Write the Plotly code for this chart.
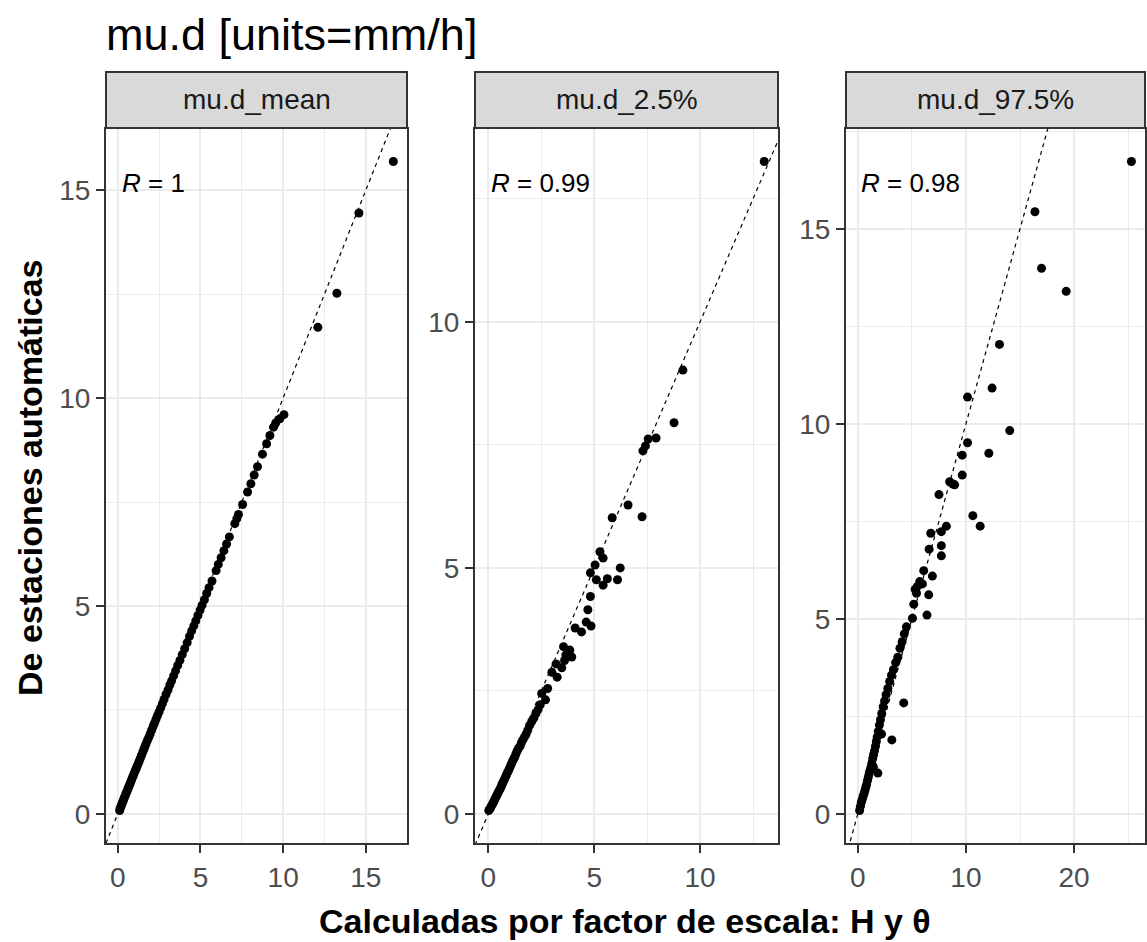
import plotly.graph_objects as go

# ---- data: automatic-station values vs. values scaled by H and theta ----
panel_names = ["mu.d_mean", "mu.d_2.5%", "mu.d_97.5%"]
r_labels = ["1", "0.99", "0.98"]

mean_x = [0.12, 0.15, 0.2, 0.24, 0.28, 0.33, 0.37, 0.41, 0.46, 0.5, 0.55, 0.6, 0.64, 0.69,
          0.74, 0.79, 0.84, 0.9, 0.95, 1.0, 1.06, 1.12, 1.18, 1.24, 1.3, 1.37, 1.44, 1.52,
          1.58, 1.65, 1.72, 1.8, 1.88, 1.96, 2.05, 2.14, 2.22, 2.31, 2.4, 2.5, 2.6, 2.7,
          2.8, 2.92, 3.04, 3.15, 3.26, 3.38, 3.5, 3.63, 3.76, 3.9, 4.05, 4.2, 4.34, 4.47,
          4.6, 4.72, 4.85, 4.98, 5.1, 5.24, 5.38, 5.52, 5.7, 5.95, 6.08, 6.25, 6.42, 6.58,
          6.75, 7.08, 7.2, 7.3, 7.55, 7.85, 8.05, 8.25, 8.45, 8.75, 9.0, 9.2, 9.42, 9.55,
          9.8, 10.05, 12.1, 13.25, 14.58, 16.66]
mean_y = [0.08, 0.13, 0.18, 0.22, 0.27, 0.31, 0.36, 0.4, 0.44, 0.49, 0.53, 0.58, 0.63, 0.67,
          0.72, 0.77, 0.82, 0.88, 0.93, 0.98, 1.04, 1.09, 1.15, 1.21, 1.27, 1.34, 1.41, 1.49,
          1.55, 1.62, 1.69, 1.77, 1.84, 1.92, 2.01, 2.1, 2.18, 2.27, 2.36, 2.45, 2.55, 2.65,
          2.75, 2.87, 2.98, 3.1, 3.2, 3.32, 3.44, 3.57, 3.69, 3.83, 3.97, 4.12, 4.27, 4.4,
          4.52, 4.64, 4.77, 4.9, 5.02, 5.15, 5.3, 5.44, 5.6, 5.85, 6.0, 6.16, 6.33, 6.49,
          6.66, 6.98, 7.1, 7.2, 7.44, 7.74, 7.94, 8.15, 8.35, 8.65, 8.9, 9.1, 9.3, 9.4,
          9.5, 9.6, 11.7, 12.52, 14.45, 15.69]

low_x = [0.02, 0.06, 0.1, 0.14, 0.18, 0.22, 0.26, 0.3, 0.34, 0.38, 0.42, 0.46, 0.5, 0.55,
         0.6, 0.64, 0.68, 0.72, 0.77, 0.82, 0.86, 0.9, 0.95, 1.0, 1.05, 1.1, 1.15, 1.2,
         1.25, 1.3, 1.36, 1.42, 1.5, 1.56, 1.62, 1.7, 1.78, 1.86, 1.95, 2.05, 2.15, 2.25,
         2.35, 2.45, 2.52, 2.7, 2.8, 3.0, 3.25, 3.47, 3.2, 3.6, 3.66, 3.85, 3.94, 3.55,
         4.1, 4.4, 4.62, 4.85, 4.7, 4.82, 5.1, 5.42, 5.62, 4.82, 5.04, 5.27, 5.42, 6.1,
         6.23, 5.85, 6.6, 7.26, 7.3, 7.42, 7.55, 7.92, 8.77, 9.19, 13.03]
low_y = [0.07, 0.1, 0.12, 0.16, 0.19, 0.22, 0.26, 0.29, 0.33, 0.36, 0.4, 0.43, 0.47, 0.5,
         0.55, 0.6, 0.63, 0.67, 0.71, 0.76, 0.8, 0.84, 0.88, 0.93, 0.98, 1.03, 1.08, 1.12,
         1.16, 1.22, 1.28, 1.33, 1.38, 1.45, 1.5, 1.56, 1.62, 1.7, 1.8, 1.88, 1.95, 2.04,
         2.12, 2.22, 2.45, 2.32, 2.55, 2.88, 2.78, 2.97, 3.05, 3.12, 3.23, 3.33, 3.19, 3.4,
         3.78, 3.7, 3.9, 3.82, 4.15, 4.42, 4.76, 4.65, 4.78, 4.9, 5.06, 5.33, 5.2, 4.76,
         5.0, 6.02, 6.28, 6.04, 7.38, 7.48, 7.62, 7.64, 7.95, 9.02, 13.26]

high_x = [0.17, 0.25, 0.33, 0.42, 0.5, 0.58, 0.66, 0.74, 0.82, 0.9, 0.98, 1.06, 1.14, 1.22,
          1.3, 1.38, 1.46, 1.55, 1.64, 1.72, 1.8, 1.9, 2.0, 2.1, 2.22, 2.35, 2.48, 2.62,
          2.78, 2.95, 3.12, 3.3, 3.5, 3.7, 3.9, 4.1, 4.3, 4.5, 1.86, 3.15, 4.25, 1.45, 2.2,
          5.06, 6.4, 5.18, 5.43, 6.56, 5.3, 5.49, 5.98, 5.73, 6.9, 6.1, 7.73, 6.6, 7.73,
          6.75, 7.73, 8.19, 7.51, 8.5, 8.8, 8.96, 9.66, 9.66, 12.12, 10.15, 14.05, 10.15,
          12.42, 13.1, 19.27, 16.99, 16.38, 10.64, 11.32, 25.3]
high_y = [0.09, 0.2, 0.3, 0.38, 0.46, 0.52, 0.6, 0.68, 0.76, 0.86, 0.95, 1.04, 1.12, 1.2,
          1.3, 1.42, 1.52, 1.62, 1.74, 1.86, 1.98, 2.12, 2.28, 2.42, 2.58, 2.75, 2.9, 3.06,
          3.22, 3.4, 3.56, 3.7, 3.88, 4.02, 4.25, 4.42, 4.62, 4.8, 1.05, 1.9, 2.85, 1.2, 2.05,
          5.02, 5.1, 5.38, 5.66, 5.62, 5.76, 5.83, 5.9, 5.96, 6.1, 6.24, 6.62, 6.79, 6.88,
          7.2, 7.24, 7.38, 8.19, 8.52, 8.46, 8.44, 8.69, 9.2, 9.25, 9.52, 9.83, 10.69,
          10.92, 12.04, 13.4, 13.99, 15.44, 7.65, 7.38, 16.73]

x_series = [mean_x, low_x, high_x]
y_series = [mean_y, low_y, high_y]
x_dticks = [5, 5, 10]
y_dticks = [5, 5, 5]

# ---- styling ----
FONT = "Arial, Liberation Sans, sans-serif"
W, H = 1147, 942
panel_px = [(106, 407), (475, 778), (846, 1145)]
top_px, bottom_px = 129, 843
strip_top_px, strip_bottom_px = 72, 128


def expand(vals, mult=0.05):
    lo, hi = min(vals), max(vals)
    pad = (hi - lo) * mult
    return [lo - pad, hi + pad]


fig = go.Figure()
y_dom = [(H - bottom_px) / H, (H - top_px) / H]

for i in range(3):
    xs, ys = x_series[i], y_series[i]
    xr, yr = expand(xs), expand(ys)
    ax = "" if i == 0 else str(i + 1)
    x_dom = [panel_px[i][0] / W, panel_px[i][1] / W]

    axis_common = dict(
        showline=True, linecolor="#333333", linewidth=2, mirror=True,
        ticks="outside", ticklen=8, tickwidth=2, tickcolor="#333333",
        tickfont=dict(family=FONT, size=28, color="#4D4D4D"),
        showgrid=True, gridcolor="#EBEBEB", gridwidth=2.4,
        zeroline=False, tick0=0,
    )
    fig.update_layout(**{
        f"xaxis{ax}": dict(axis_common, domain=x_dom, range=xr, dtick=x_dticks[i],
                           anchor=f"y{ax}",
                           minor=dict(dtick=x_dticks[i] / 2, tick0=0, showgrid=True,
                                      gridcolor="#EBEBEB", gridwidth=1.2, ticks="")),
        f"yaxis{ax}": dict(axis_common, domain=y_dom, range=yr, dtick=y_dticks[i],
                           anchor=f"x{ax}",
                           minor=dict(dtick=y_dticks[i] / 2, tick0=0, showgrid=True,
                                      gridcolor="#EBEBEB", gridwidth=1.2, ticks="")),
    })

    # 1:1 reference line across the whole panel
    lo = min(xr[0], yr[0])
    hi = max(xr[1], yr[1])
    fig.add_trace(go.Scatter(x=[lo, hi], y=[lo, hi], mode="lines",
                             line=dict(color="black", width=1.2, dash="4px,4px"),
                             xaxis=f"x{ax}", yaxis=f"y{ax}", hoverinfo="skip",
                             showlegend=False))
    fig.add_trace(go.Scatter(x=xs, y=ys, mode="markers",
                             marker=dict(color="black", size=9),
                             xaxis=f"x{ax}", yaxis=f"y{ax}", showlegend=False))

    # facet strip
    fig.add_shape(type="rect", xref="paper", yref="paper",
                  x0=x_dom[0], x1=x_dom[1],
                  y0=(H - strip_bottom_px) / H, y1=(H - strip_top_px) / H,
                  fillcolor="#D9D9D9", line=dict(color="#333333", width=2), layer="above")
    fig.add_annotation(text=panel_names[i], xref="paper", yref="paper",
                       x=(x_dom[0] + x_dom[1]) / 2,
                       y=(H - (strip_top_px + strip_bottom_px) / 2) / H,
                       showarrow=False, xanchor="center", yanchor="middle",
                       font=dict(family=FONT, size=28, color="#1A1A1A"))

    # correlation label
    fig.add_annotation(text=f"<i>R</i> = {r_labels[i]}", xref=f"x{ax} domain",
                       yref=f"y{ax} domain", x=0.045, y=0.924, showarrow=False,
                       xanchor="left", yanchor="middle",
                       font=dict(family=FONT, size=26, color="black"))

fig.add_annotation(text="mu.d [units=mm/h]", xref="paper", yref="paper",
                   x=104 / W, y=(H - 35) / H, showarrow=False, xanchor="left",
                   yanchor="middle", font=dict(family=FONT, size=45, color="black"))
fig.add_annotation(text="<b>Calculadas por factor de escala: H y θ</b>", xref="paper",
                   yref="paper", x=625 / W, y=(H - 921) / H, showarrow=False,
                   xanchor="center", yanchor="middle",
                   font=dict(family=FONT, size=34, color="black"))
fig.add_annotation(text="<b>De estaciones automáticas</b>", xref="paper", yref="paper",
                   x=30 / W, y=(H - 478) / H, showarrow=False, textangle=-90,
                   xanchor="center", yanchor="middle",
                   font=dict(family=FONT, size=34, color="black"))

fig.update_layout(width=W, height=H, margin=dict(l=0, r=0, t=0, b=0),
                  paper_bgcolor="white", plot_bgcolor="white", showlegend=False)

fig.write_html("out.html")
